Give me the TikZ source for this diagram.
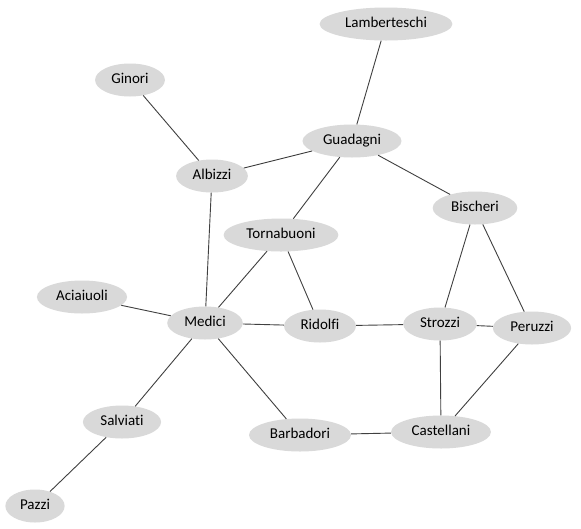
\documentclass[tikz,border=0pt]{standalone}
\usepackage{fontspec}
\setmainfont[Ligatures={NoCommon,NoContextual}]{Carlito}
\usetikzlibrary{shapes.geometric}
\definecolor{famGray}{RGB}{217,217,217}
\definecolor{famLine}{RGB}{64,64,64}

\tikzset{
  family/.style={ellipse,fill=famGray,inner xsep=6pt,inner ysep=2pt,
    minimum height=33pt,text height=10.5pt,text depth=3pt,
    font=\fontsize{15}{17}\selectfont},
  tie/.style={draw=famLine,line width=0.9pt}
}

\begin{document}
\begin{tikzpicture}[x=1pt,y=-1pt]
    \useasboundingbox[fill=white] (0,0) rectangle (581,528);
    % families
    \foreach \fam/\x/\y in {Lamberteschi/386/24,Ginori/130/80,Guadagni/352/141,
                            Albizzi/212/176,Bischeri/475/208,Tornabuoni/281/235,
                            Aciaiuoli/82/297,Medici/205/323,Ridolfi/320/326,
                            Strozzi/440/324,Peruzzi/532/328,Salviati/122/422,
                            Barbadori/300/435,Castellani/441/432,Pazzi/35/506}
      {\node[family] (\fam) at (\x,\y) {\fam};}
    % marriage ties
    \foreach \a/\b in {Lamberteschi/Guadagni,Ginori/Albizzi,Albizzi/Guadagni,
                       Guadagni/Tornabuoni,Guadagni/Bischeri,Albizzi/Medici,
                       Tornabuoni/Medici,Tornabuoni/Ridolfi,Bischeri/Strozzi,
                       Bischeri/Peruzzi,Aciaiuoli/Medici,Medici/Ridolfi,
                       Ridolfi/Strozzi,Strozzi/Peruzzi,Strozzi/Castellani,
                       Peruzzi/Castellani,Medici/Salviati,Medici/Barbadori,
                       Barbadori/Castellani,Salviati/Pazzi}
      {\draw[tie] (\a) -- (\b);}
  \end{tikzpicture}
\end{document}
